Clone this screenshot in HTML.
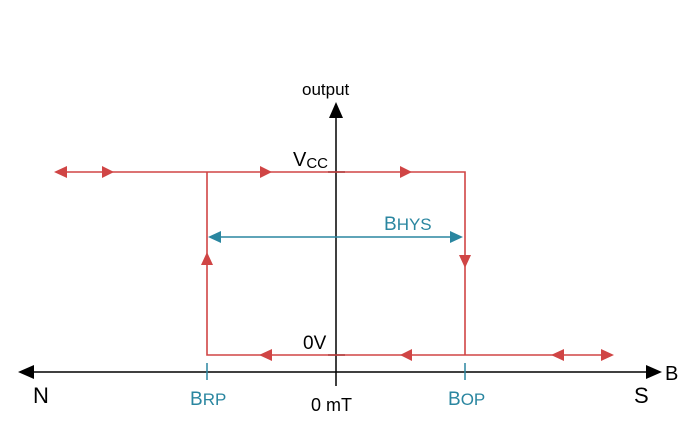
<!DOCTYPE html>
<html><head><style>
body{margin:0;background:#fff;}
svg text{font-family:"Liberation Sans",sans-serif;}
</style></head><body>
<svg width="682" height="435" viewBox="0 0 682 435" xmlns="http://www.w3.org/2000/svg">
<g stroke="#000" stroke-width="1.5" fill="none">
<line x1="30" y1="372" x2="652" y2="372"/>
<line x1="336" y1="112" x2="336" y2="386"/>
<line x1="328" y1="172" x2="345" y2="172"/>
<line x1="328" y1="355" x2="345" y2="355"/>
</g>
<polygon points="18,372 34,365 34,379" fill="#000"/>
<polygon points="662,372 646,365 646,379" fill="#000"/>
<polygon points="336,102 329,118 343,118" fill="#000"/>
<g stroke="#d04545" stroke-width="1.6" fill="none">
<polyline points="58,172 465,172 465,355"/>
<polyline points="207,172 207,355 611,355"/>
</g>
<g fill="#d04545">
<polygon points="54,172 67,166 67,178"/>
<polygon points="114,172 102,166 102,178"/>
<polygon points="272,172 260,166 260,178"/>
<polygon points="412,172 400,166 400,178"/>
<polygon points="207,252 201,265 213,265"/>
<polygon points="465,268 459,255 471,255"/>
<polygon points="259,355 272,349 272,361"/>
<polygon points="400,355 412,349 412,361"/>
<polygon points="551,355 564,349 564,361"/>
<polygon points="614,355 601,349 601,361"/>
</g>
<g stroke="#2a86a0" stroke-width="1.5">
<line x1="218" y1="237" x2="452" y2="237"/>
<line x1="207" y1="363" x2="207" y2="380"/>
<line x1="465" y1="363" x2="465" y2="380"/>
</g>
<g fill="#2a86a0">
<polygon points="208,237 221,231 221,243"/>
<polygon points="463,237 450,231 450,243"/>
</g>
<text x="302" y="95" font-size="17" fill="#000">output</text>
<text x="293" y="166" font-size="20" fill="#000">V<tspan font-size="15" dy="2">CC</tspan></text>
<text x="303" y="349" font-size="19" fill="#000">0V</text>
<text x="33" y="403" font-size="22" fill="#000">N</text>
<text x="634" y="403" font-size="22" fill="#000">S</text>
<text x="665" y="380" font-size="20" fill="#000">B</text>
<text x="311" y="411" font-size="18" fill="#000">0 mT</text>
<text x="190" y="405" font-size="19" fill="#2a86a0">B<tspan font-size="17">RP</tspan></text>
<text x="448" y="405" font-size="19" fill="#2a86a0">B<tspan font-size="17">OP</tspan></text>
<text x="384" y="230" font-size="19" fill="#2a86a0">B<tspan font-size="17">HYS</tspan></text>
</svg>
</body></html>
